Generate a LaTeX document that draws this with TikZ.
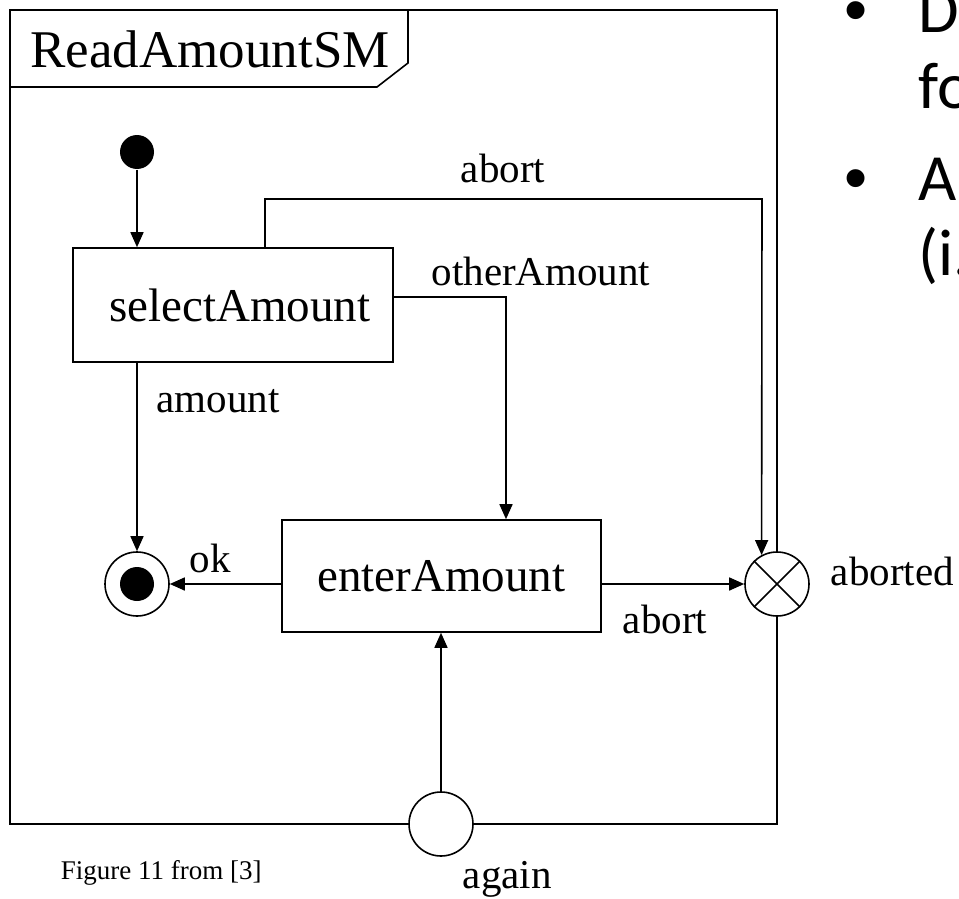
\documentclass[tikz,border=0pt]{standalone}
\usepackage{fontspec}
\setmainfont{Liberation Serif}
\newfontfamily\slidefont{Carlito}
\newfontfamily\bulletfont{Liberation Sans}
\usetikzlibrary{arrows.meta}
\begin{document}
\begin{tikzpicture}[x=1pt,y=-1pt,
  line width=1.6pt,
  arr/.style={-{Triangle[length=15pt,width=13pt]}},
  statebox/.style={draw, rectangle, inner sep=0pt, font=\fontsize{47}{47}\selectfont},
  pseudo/.style={draw, circle, fill=white, minimum size=64pt, inner sep=0pt},
  lbl/.style={inner sep=0pt, anchor=base, font=\fontsize{41}{41}\selectfont},
  slide/.style={inner sep=0pt, anchor=base west, font=\slidefont\fontsize{66}{66}\selectfont},
  bullet/.style={inner sep=0pt, anchor=base, font=\bulletfont\fontsize{66}{66}\selectfont},
]
\useasboundingbox (0,0) rectangle (959,899);
\clip (0,0) rectangle (959,899);

% state machine frame and its name tab
\draw (10,10) rectangle (777,824);
\draw (10,87) -- (377,87) -- (408,63) -- (408,10);
\node[inner sep=0pt, anchor=base, font=\fontsize{53}{53}\selectfont] (title) at (210,68) {ReadAmountSM};

% states
\node[circle, fill, minimum size=34pt, inner sep=0pt] (init) at (137,152) {};
\node[statebox, minimum width=320pt, minimum height=114pt] (sel) at (233,305) {\hspace*{14pt}selectAmount};
\node[statebox, minimum width=319pt, minimum height=112pt] (enter) at (441.5,576) {enterAmount};
\node[circle, draw, minimum size=64pt, inner sep=0pt] (fin) at (137,584) {};
\fill (fin.center) circle (17pt);

% exit and entry points on the frame
\node[pseudo] (ab) at (777,584) {};
\draw (ab.45) -- (ab.225) (ab.135) -- (ab.315);
\node[pseudo] (ag) at (441,824) {};

% transitions
\coordinate (a1) at (265,199);
\coordinate (a2) at (762,199);
\coordinate (o1) at (506,297);
\draw[arr] (init.south) -- (init.south |- sel.north);
\draw[arr] (sel.north -| a1) -- (a1) -- (a2) -- (ab.118);
\draw[arr] (sel.east |- o1) -- (o1) -- (o1 |- enter.north);
\draw[arr] (sel.south -| fin) -- (fin.north);
\draw[arr] (enter.west |- fin) -- (fin.east);
\draw[arr] (enter.east |- ab) -- (ab.west);
\draw[arr] (ag.north) -- (ag.north |- enter.south);

% transition labels
\node[lbl] (labort) at (503,182) {abort};
\node[lbl] (lother) at (541,285) {otherAmount};
\node[lbl] (lamount) at (218,412) {amount};
\node[lbl] (lok) at (210,572) {ok};
\node[lbl] (labort2) at (665,633) {abort};
\node[lbl, anchor=base west] (laborted) at (830,585) {aborted};
\node[lbl, anchor=base west] (lagain) at (462,888) {again};

% caption
\node[inner sep=0pt, anchor=base west, font=\fontsize{27}{27}\selectfont] (cap) at (60,879) {Figure 11 from [3]};

% bullet text at the right edge
\node[bullet] (b1) at (856,33) {•};
\node[slide] (t1) at (918,33) {D};
\node[slide] (t2) at (918,108) {fo};
\node[bullet] (b2) at (856,200) {•};
\node[slide] (t3) at (918,200) {A};
\node[slide] (t4) at (918,275) {(i.};
\end{tikzpicture}
\end{document}
